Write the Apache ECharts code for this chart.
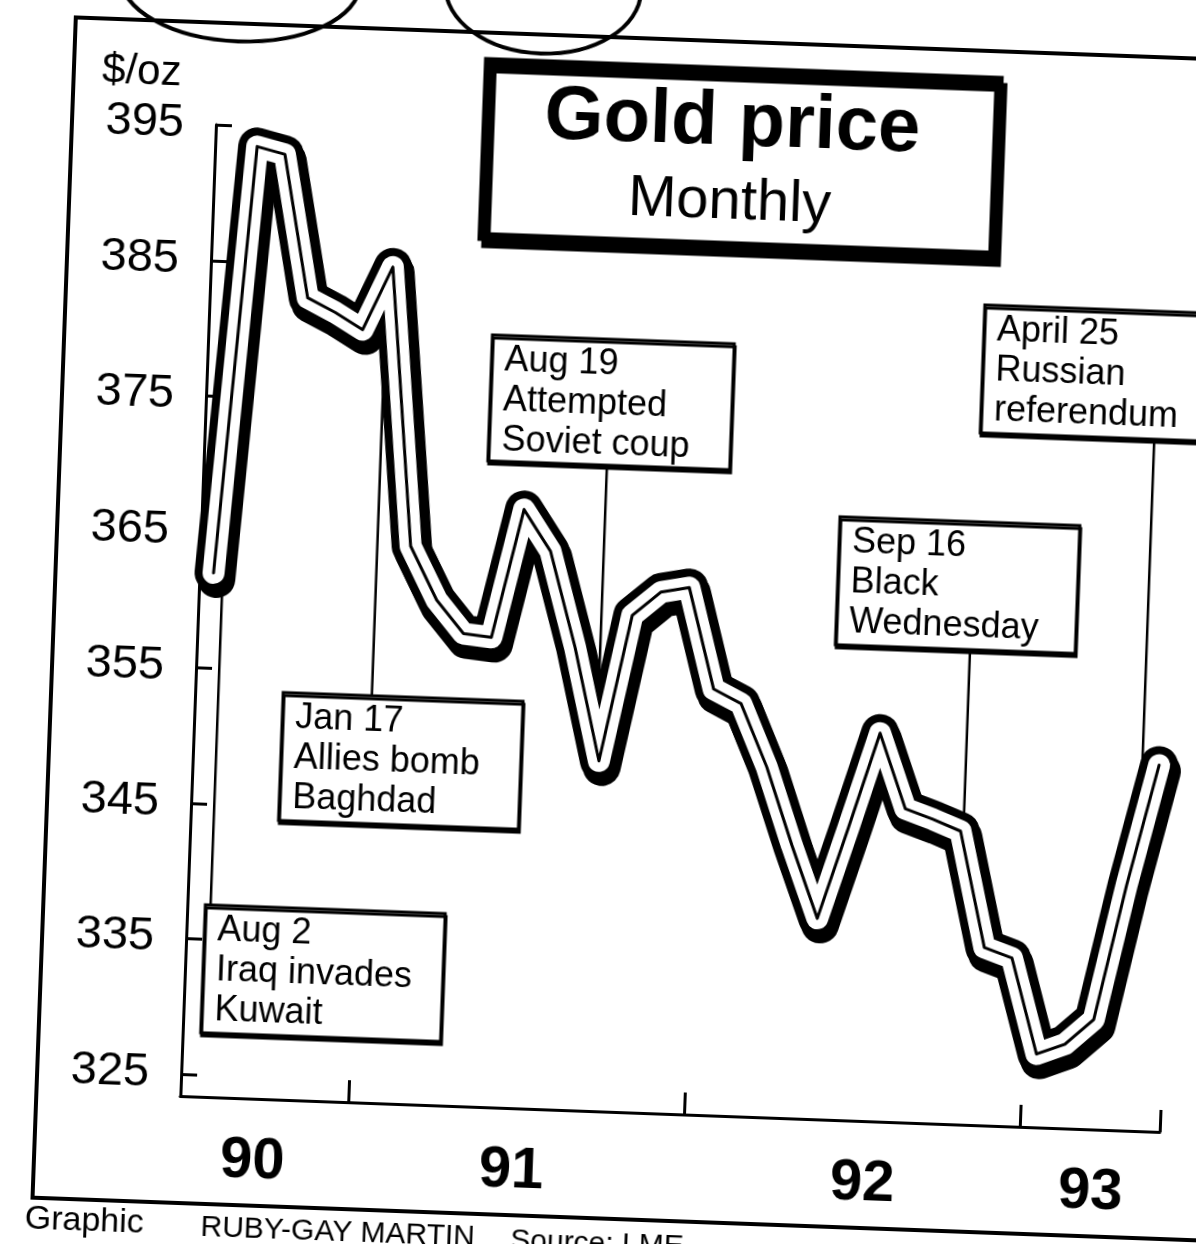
<!DOCTYPE html>
<html>
<head>
<meta charset="utf-8">
<script src="https://cdn.jsdelivr.net/npm/echarts@6/dist/echarts.min.js"></script>
<style>
  html, body { margin: 0; padding: 0; width: 1196px; height: 1244px; overflow: hidden; background: #fff; }
  /* the printed page sits slightly askew */
  #chart { position: absolute; left: -52px; top: -53px; width: 1300px; height: 1350px;
           transform: rotate(2.1deg); transform-origin: 50% 50%; }
</style>
</head>
<body>
<div id="chart"></div>
<script>
// Monthly gold price, $/oz, July 1990 - May 1993
const months = [
  'Jul 90','Aug 90','Sep 90','Oct 90','Nov 90','Dec 90',
  'Jan 91','Feb 91','Mar 91','Apr 91','May 91','Jun 91','Jul 91','Aug 91','Sep 91','Oct 91','Nov 91','Dec 91',
  'Jan 92','Feb 92','Mar 92','Apr 92','May 92','Jun 92','Jul 92','Aug 92','Sep 92','Oct 92','Nov 92','Dec 92',
  'Jan 93','Feb 93','Mar 93','Apr 93','May 93'
];
const price = [
  362, 393.5, 393, 382.5, 381.5, 380.3,
  385, 364.5, 360.6, 358.2, 358, 367.5, 364.5, 357.5, 349.2, 360, 361.8, 362.2,
  354.8, 353.8, 349.2, 343.5, 338.2, 345, 352, 346.5, 345.8, 345, 336.5, 335.8,
  328.8, 329.6, 331.5, 341.5, 350.4
];

// axis ticks and labels (x in months from 1 July 1990)
const yTicks = [325, 335, 345, 355, 365, 375, 385, 395];
const yearTicks = [6, 18, 30, 35];
const yearLabels = ['90', '91', '92', '93'];
const yearLabelAt = [2.65, 11.9, 24.45, 32.6];

// annotated events: text and where each leader meets the line
const eventText = [
  'Aug 2\nIraq invades\nKuwait',
  'Jan 17\nAllies bomb\nBaghdad',
  'Aug 19\nAttempted\nSoviet coup',
  'Sep 16\nBlack\nWednesday',
  'April 25\nRussian\nreferendum'
];
const eventAt = [0.83, 6.31, 14.4, 27.6, 33.9];

// callout box placement (pixels) and which edge the leader leaves from
const eventBox = [
  { x: 268,  y: 972, w: 240, h: 128, edge: 'top' },
  { x: 338,  y: 757, w: 240, h: 128, edge: 'top' },
  { x: 534,  y: 392, w: 242, h: 126, edge: 'bottom' },
  { x: 888,  y: 561, w: 240, h: 128, edge: 'bottom' },
  { x: 1025, y: 344, w: 260, h: 128, edge: 'bottom' }
];

const FONT = '"Liberation Sans", Arial, Helvetica, sans-serif';
const chart = echarts.init(document.getElementById('chart'), null, { renderer: 'canvas' });

const pts = months.map((m, i) => [i + 0.5, price[i]]);

const option = {
  animation: false,
  backgroundColor: 'transparent',
  grid: { left: 250, top: 192, width: 980, height: 972 },
  xAxis: {
    type: 'value', min: 0, max: 35,
    axisLine: { onZero: false, lineStyle: { color: '#000', width: 3 } },
    axisTick: { inside: true, length: 22, customValues: yearTicks, lineStyle: { color: '#000', width: 3 } },
    axisLabel: {
      customValues: yearLabelAt, margin: 34, color: '#000',
      fontSize: 58, fontWeight: 'bold', fontFamily: FONT,
      formatter: v => {
        let k = 0;
        yearLabelAt.forEach((p, i) => { if (Math.abs(p - v) < Math.abs(yearLabelAt[k] - v)) k = i; });
        return yearLabels[k];
      }
    },
    splitLine: { show: false }
  },
  yAxis: {
    type: 'value', min: 323.4, max: 395,
    axisLine: { onZero: false, lineStyle: { color: '#000', width: 3 } },
    axisTick: { inside: true, length: 16, customValues: yTicks, lineStyle: { color: '#000', width: 3 } },
    axisLabel: { customValues: yTicks, margin: 32, color: '#000', fontSize: 47, fontFamily: FONT },
    splitLine: { show: false }
  },
  series: [
    // outer black ribbon with a hard drop shadow
    { type: 'line', data: pts, symbol: 'none', silent: true, clip: false, z: 3,
      lineStyle: { color: '#000', width: 38, join: 'round', cap: 'round',
                   shadowColor: '#000', shadowBlur: 0, shadowOffsetX: 3, shadowOffsetY: 6 } },
    // white inner band
    { type: 'line', data: pts, symbol: 'none', silent: true, clip: false, z: 4,
      lineStyle: { color: '#fff', width: 22, join: 'round', cap: 'round' } },
    // thin core line
    { type: 'line', data: pts, symbol: 'none', silent: true, clip: false, z: 5,
      lineStyle: { color: '#000', width: 3, join: 'round', cap: 'round' } }
  ]
};
chart.setOption(option);

function valueAt(m) {
  const i = Math.max(0, Math.min(price.length - 2, Math.floor(m - 0.5)));
  const t = m - (i + 0.5);
  return price[i] + t * (price[i + 1] - price[i]);
}

function txt(x, y, text, size, weight, align, vAlign, lh) {
  return {
    type: 'text', x: x, y: y, z: 20, silent: true,
    style: {
      text: text, fill: '#000',
      font: (weight || 'normal') + ' ' + size + 'px ' + FONT,
      align: align || 'left', verticalAlign: vAlign || 'top',
      textAlign: align || 'left', textVerticalAlign: vAlign || 'top',
      lineHeight: lh || size
    }
  };
}

const g = [];
// page frame
g.push({ type: 'rect', z: 1, silent: true, shape: { x: 106, y: 90, width: 1300, height: 1181 },
         style: { fill: null, stroke: '#000', lineWidth: 4 } });
// pen circles along the top edge
g.push({ type: 'ellipse', z: 1, silent: true, shape: { cx: 269, cy: 46, rx: 120, ry: 62 },
         style: { fill: null, stroke: '#000', lineWidth: 4 } });
g.push({ type: 'ellipse', z: 1, silent: true, shape: { cx: 572, cy: 43, rx: 98, ry: 66 },
         style: { fill: null, stroke: '#000', lineWidth: 4 } });

// title box
g.push({ type: 'rect', z: 15, silent: true, shape: { x: 520, y: 119, width: 511, height: 175 },
         style: { fill: '#fff', stroke: '#000', lineWidth: 9,
                  shadowColor: '#000', shadowBlur: 0, shadowOffsetX: 4, shadowOffsetY: 7 } });
g.push(txt(766, 172, 'Gold price', 76, 'bold', 'center', 'middle'));
g.push(txt(766, 251, 'Monthly', 58, 'normal', 'center', 'middle'));

// unit label
g.push(txt(174, 142, '$/oz', 42, 'normal', 'center', 'middle'));

// event callouts with leaders
eventText.forEach((t, k) => {
  const b = eventBox[k];
  const p = chart.convertToPixel({ gridIndex: 0 }, [eventAt[k], valueAt(eventAt[k])]);
  const y0 = b.edge === 'top' ? b.y : b.y + b.h;
  g.push({ type: 'line', z: 1, silent: true, shape: { x1: p[0], y1: y0, x2: p[0], y2: p[1] },
           style: { stroke: '#000', lineWidth: 2.5 } });
  g.push({ type: 'rect', z: 15, silent: true, shape: { x: b.x, y: b.y, width: b.w, height: b.h },
           style: { fill: '#fff', stroke: '#000', lineWidth: 3,
                    shadowColor: '#000', shadowBlur: 0, shadowOffsetX: 1, shadowOffsetY: 3 } });
  g.push(txt(b.x + 13, b.y + 5, t, 36, 'normal', 'left', 'top', 40));
});

// credit line
g.push(txt(99, 1276, 'Graphic', 34, 'normal', 'left', 'top'));
g.push(txt(275, 1280, 'RUBY-GAY MARTIN', 30, 'normal', 'left', 'top'));
g.push(txt(585, 1282, 'Source: LME', 30, 'normal', 'left', 'top'));

chart.setOption({ graphic: { elements: g } });
</script>
</body>
</html>
